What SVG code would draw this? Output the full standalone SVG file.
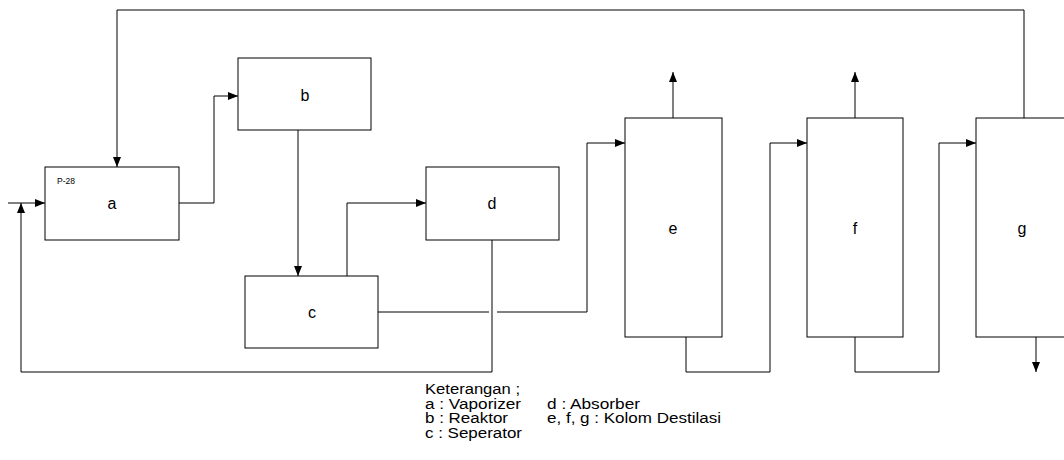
<svg xmlns="http://www.w3.org/2000/svg" width="1064" height="460" viewBox="0 0 1064 460">
<style>
.box{fill:#fff;stroke:#000;stroke-width:1}
.ln{fill:none;stroke:#000;stroke-width:1}
.lbl{font-family:"Liberation Sans",Arial,sans-serif;font-size:16px;fill:#000;text-anchor:middle}
.leg{font-family:"Liberation Sans",Arial,sans-serif;font-size:14px;fill:#000}
.tag{font-family:"Liberation Sans",Arial,sans-serif;font-size:8.5px;fill:#000}
</style>
<defs>
<marker id="ar" viewBox="0 0 10 8" refX="10" refY="4" markerWidth="10" markerHeight="8" markerUnits="userSpaceOnUse" orient="auto">
<path d="M0,0 L10,4 L0,8 Z" fill="#000"/>
</marker>
</defs>
<g id="connectors">
<path class="ln" d="M8,203 H45" marker-end="url(#ar)"/>
<path class="ln" d="M179,203 H214 V96 H238" marker-end="url(#ar)"/>
<path class="ln" d="M298,130 V276" marker-end="url(#ar)"/>
<path class="ln" d="M347,276 V203 H426" marker-end="url(#ar)"/>
<path class="ln" d="M492,240 V372 H21 V203" marker-end="url(#ar)"/>
<path class="ln" d="M378,312 H489"/>
<path class="ln" d="M497,312 H587 V143 H625" marker-end="url(#ar)"/>
<path class="ln" d="M673,118 V72" marker-end="url(#ar)"/>
<path class="ln" d="M686,337 V372 H770 V143 H807" marker-end="url(#ar)"/>
<path class="ln" d="M855,118 V72" marker-end="url(#ar)"/>
<path class="ln" d="M855,337 V372 H939 V143 H976" marker-end="url(#ar)"/>
<path class="ln" d="M1036,337 V372" marker-end="url(#ar)"/>
<path class="ln" d="M1024,118 V10 H117 V167" marker-end="url(#ar)"/>
</g>
<g id="node-a">
<rect class="box" x="45" y="167" width="134" height="73"/>
<text class="tag" x="57" y="184">P-28</text>
<text class="lbl" x="112" y="209">a</text>
</g>
<g id="node-b">
<rect class="box" x="238" y="58" width="133" height="72"/>
<text class="lbl" x="305" y="101">b</text>
</g>
<g id="node-c">
<rect class="box" x="245" y="276" width="133" height="72"/>
<text class="lbl" x="312" y="318">c</text>
</g>
<g id="node-d">
<rect class="box" x="426" y="167" width="133" height="73"/>
<text class="lbl" x="492" y="209">d</text>
</g>
<g id="node-e">
<rect class="box" x="625" y="118" width="97" height="219"/>
<text class="lbl" x="673" y="234">e</text>
</g>
<g id="node-f">
<rect class="box" x="807" y="118" width="96" height="219"/>
<text class="lbl" x="855" y="234">f</text>
</g>
<g id="node-g">
<rect class="box" x="976" y="118" width="100" height="219"/>
<text class="lbl" x="1022" y="234">g</text>
</g>
<g id="legend">
<text class="leg" x="425" y="394" textLength="95" lengthAdjust="spacingAndGlyphs">Keterangan ;</text>
<text class="leg" x="425" y="409" textLength="96" lengthAdjust="spacingAndGlyphs">a : Vaporizer</text>
<text class="leg" x="425" y="423" textLength="83" lengthAdjust="spacingAndGlyphs">b : Reaktor</text>
<text class="leg" x="425" y="438" textLength="97" lengthAdjust="spacingAndGlyphs">c : Seperator</text>
<text class="leg" x="547" y="409" textLength="93" lengthAdjust="spacingAndGlyphs">d : Absorber</text>
<text class="leg" x="547" y="423" textLength="174" lengthAdjust="spacingAndGlyphs">e, f, g : Kolom Destilasi</text>
</g>
</svg>
